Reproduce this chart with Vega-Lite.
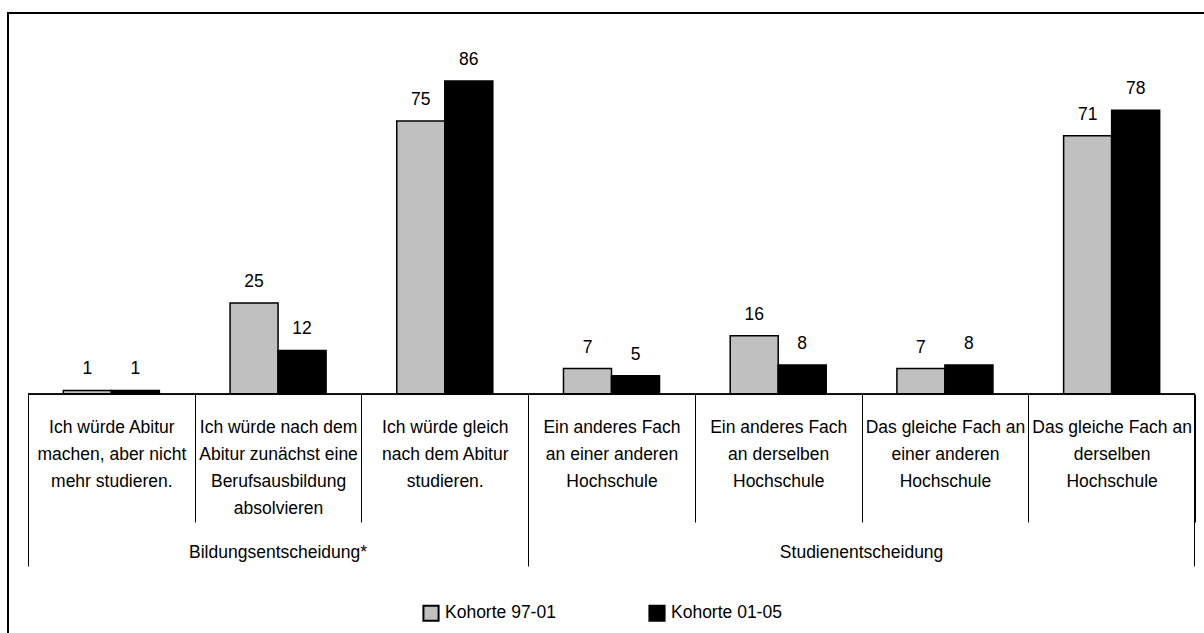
{
  "$schema": "https://vega.github.io/schema/vega-lite/v6.json",
  "width": 1198,
  "height": 622,
  "autosize": {"type": "none"},
  "padding": {"left": 8, "top": 13, "right": -2, "bottom": -2},
  "background": "white",
  "config": {
    "view": {"stroke": "black", "strokeWidth": 2},
    "font": "Liberation Sans",
    "axis": {"labelFont": "Liberation Sans", "labelColor": "black", "labelFontSize": 17.5, "tickColor": "black", "tickWidth": 1, "grid": false, "domain": false, "labelAngle": 0, "labelLimit": 400, "labelOverlap": false}
  },
  "data": {
    "values": [
      {"antwort": "Ich würde Abitur\nmachen, aber nicht\nmehr studieren.", "kohorte": "Kohorte 97-01", "anteil": 1},
      {"antwort": "Ich würde Abitur\nmachen, aber nicht\nmehr studieren.", "kohorte": "Kohorte 01-05", "anteil": 1},
      {"antwort": "Ich würde nach dem\nAbitur zunächst eine\nBerufsausbildung\nabsolvieren", "kohorte": "Kohorte 97-01", "anteil": 25},
      {"antwort": "Ich würde nach dem\nAbitur zunächst eine\nBerufsausbildung\nabsolvieren", "kohorte": "Kohorte 01-05", "anteil": 12},
      {"antwort": "Ich würde gleich\nnach dem Abitur\nstudieren.", "kohorte": "Kohorte 97-01", "anteil": 75},
      {"antwort": "Ich würde gleich\nnach dem Abitur\nstudieren.", "kohorte": "Kohorte 01-05", "anteil": 86},
      {"antwort": "Ein anderes Fach\nan einer anderen\nHochschule", "kohorte": "Kohorte 97-01", "anteil": 7},
      {"antwort": "Ein anderes Fach\nan einer anderen\nHochschule", "kohorte": "Kohorte 01-05", "anteil": 5},
      {"antwort": "Ein anderes Fach\nan derselben\nHochschule", "kohorte": "Kohorte 97-01", "anteil": 16},
      {"antwort": "Ein anderes Fach\nan derselben\nHochschule", "kohorte": "Kohorte 01-05", "anteil": 8},
      {"antwort": "Das gleiche Fach an\neiner anderen\nHochschule", "kohorte": "Kohorte 97-01", "anteil": 7},
      {"antwort": "Das gleiche Fach an\neiner anderen\nHochschule", "kohorte": "Kohorte 01-05", "anteil": 8},
      {"antwort": "Das gleiche Fach an\nderselben\nHochschule", "kohorte": "Kohorte 97-01", "anteil": 71},
      {"antwort": "Das gleiche Fach an\nderselben\nHochschule", "kohorte": "Kohorte 01-05", "anteil": 78}
    ]
  },
  "layer": [
    {
      "mark": {"type": "bar", "stroke": "black", "strokeWidth": 1.5},
      "encoding": {
        "x": {
          "field": "antwort", "type": "nominal", "sort": null,
          "scale": {"paddingInner": 0, "paddingOuter": 0.093, "align": 0.645},
          "axis": {
            "title": null, "orient": "bottom", "offset": -241,
            "tickBand": "extent", "tickSize": 128,
            "labelExpr": "split(datum.label, '\\n')",
            "labelAlign": "center", "labelBaseline": "top", "labelPadding": -104, "labelLineHeight": 27
          }
        },
        "xOffset": {"field": "kohorte", "type": "nominal", "sort": null, "scale": {"paddingInner": 0, "paddingOuter": 0.736}},
        "y": {"field": "anteil", "type": "quantitative", "scale": {"domain": [-66.2, 104.7], "nice": false, "zero": false}, "axis": null},
        "color": {
          "field": "kohorte", "type": "nominal", "sort": null,
          "scale": {"domain": ["Kohorte 97-01", "Kohorte 01-05"], "range": ["#C0C0C0", "#000000"]},
          "legend": {
            "title": null, "orient": "none", "legendX": 414, "legendY": 591, "direction": "horizontal",
            "symbolType": "square", "symbolSize": 230, "symbolStrokeColor": "black", "symbolStrokeWidth": 2,
            "labelFont": "Liberation Sans", "labelFontSize": 17.5, "labelColor": "black", "labelOffset": 5, "columnPadding": 89
          }
        }
      }
    },
    {
      "mark": {"type": "text", "baseline": "alphabetic", "dy": -16, "fontSize": 17.5, "color": "black", "font": "Liberation Sans"},
      "encoding": {
        "x": {
          "field": "antwort", "type": "nominal", "sort": null,
          "axis": {
            "title": null, "orient": "bottom", "offset": -241, "bandPosition": 0, "tickSize": 172,
            "tickOpacity": {"condition": {"test": "indexof(domain('x'), datum.value) == 0 || indexof(domain('x'), datum.value) == 3", "value": 1}, "value": 0},
            "labelExpr": "indexof(domain('x'), datum.value) == 1 ? 'Bildungsentscheidung*' : (indexof(domain('x'), datum.value) == 4 ? 'Studienentscheidung' : '')",
            "labelOffset": {"condition": {"test": "indexof(domain('x'), datum.value) == 4", "value": 83.4}, "value": 0},
            "labelAlign": "center", "labelBaseline": "top", "labelPadding": -23
          }
        },
        "xOffset": {"field": "kohorte", "type": "nominal", "sort": null},
        "y": {"field": "anteil", "type": "quantitative"},
        "text": {"field": "anteil", "type": "quantitative"}
      }
    },
    {
      "mark": {"type": "bar", "fill": "transparent", "stroke": "black", "strokeWidth": 1},
      "encoding": {
        "x": {
          "field": "antwort", "type": "nominal", "sort": null,
          "axis": {
            "title": null, "orient": "bottom", "offset": -241, "bandPosition": 1, "tickSize": 172, "labels": false,
            "tickOpacity": {"condition": {"test": "indexof(domain('x'), datum.value) == 6", "value": 1}, "value": 0}
          }
        },
        "y": {"datum": 0, "type": "quantitative"},
        "y2": {"datum": 0}
      }
    }
  ],
  "resolve": {"axis": {"x": "independent"}}
}
